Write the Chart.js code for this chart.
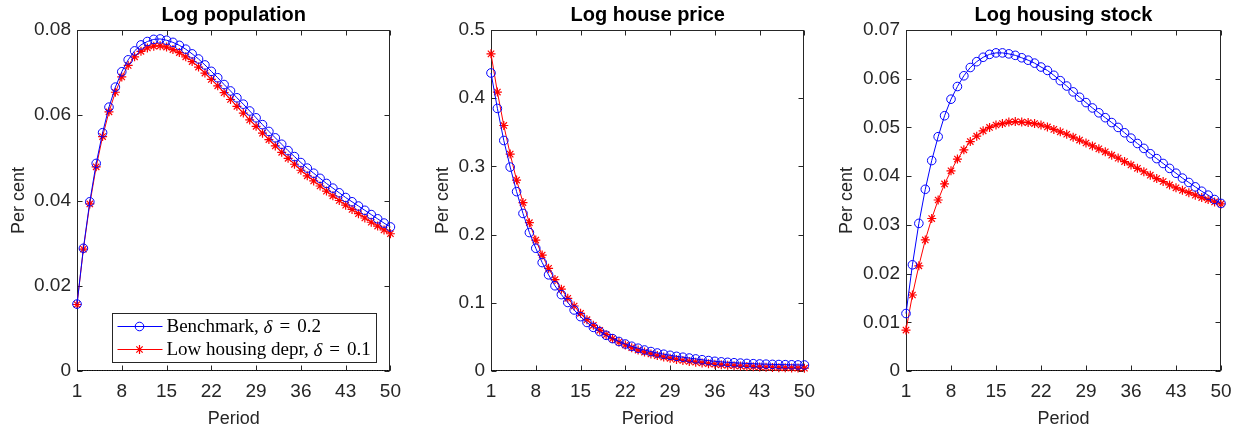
<!DOCTYPE html>
<html>
<head>
<meta charset="utf-8">
<script src="https://cdn.jsdelivr.net/npm/chart.js@4.4.0/dist/chart.umd.min.js"></script>
<style>
  body { margin: 0; background: #fff; width: 1241px; height: 431px; overflow: hidden; position: relative; }
  canvas { position: absolute; top: 0; }
</style>
</head>
<body>
<canvas id="c1" width="410" height="431" style="left:0px"></canvas>
<canvas id="c2" width="410" height="431" style="left:414px"></canvas>
<canvas id="c3" width="412" height="431" style="left:829px"></canvas>
<script>
// periods on the x axis
const periods = [1, 2, 3, 4, 5, 6, 7, 8, 9, 10, 11, 12, 13, 14, 15, 16, 17, 18, 19, 20,
  21, 22, 23, 24, 25, 26, 27, 28, 29, 30, 31, 32, 33, 34, 35, 36, 37, 38, 39, 40,
  41, 42, 43, 44, 45, 46, 47, 48, 49, 50];
const periodTicks = [1, 8, 15, 22, 29, 36, 43, 50];

const seriesNames = ['Benchmark, ', 'Low housing depr, '];
const deltaValues = ['0.2', '0.1'];

// Log population
const popBench = [0.0157, 0.0288, 0.0397, 0.0487, 0.0559, 0.0619, 0.0666, 0.0702, 0.0730, 0.0751,
  0.0765, 0.0773, 0.0778, 0.0779, 0.0776, 0.0771, 0.0764, 0.0755, 0.0744, 0.0732,
  0.0718, 0.0703, 0.0688, 0.0672, 0.0657, 0.0641, 0.0626, 0.0610, 0.0594, 0.0578,
  0.0562, 0.0547, 0.0532, 0.0517, 0.0503, 0.0489, 0.0476, 0.0464, 0.0452, 0.0440,
  0.0429, 0.0418, 0.0407, 0.0397, 0.0387, 0.0377, 0.0367, 0.0357, 0.0347, 0.0338];
const popLow = [0.0156, 0.0286, 0.0392, 0.0479, 0.0550, 0.0608, 0.0654, 0.0690, 0.0717, 0.0737,
  0.0750, 0.0758, 0.0762, 0.0763, 0.0760, 0.0754, 0.0747, 0.0737, 0.0726, 0.0713,
  0.0699, 0.0684, 0.0669, 0.0653, 0.0637, 0.0621, 0.0605, 0.0589, 0.0574, 0.0558,
  0.0543, 0.0528, 0.0513, 0.0499, 0.0485, 0.0471, 0.0458, 0.0446, 0.0434, 0.0422,
  0.0411, 0.0400, 0.0389, 0.0379, 0.0369, 0.0359, 0.0349, 0.0340, 0.0331, 0.0322];
const popTicks = [0, 0.02, 0.04, 0.06, 0.08];

// Log house price
const priceBench = [0.437, 0.385, 0.338, 0.299, 0.263, 0.231, 0.203, 0.180, 0.159, 0.141,
  0.125, 0.112, 0.1005, 0.0895, 0.0797, 0.0712, 0.0640, 0.0578, 0.0523, 0.0475,
  0.0433, 0.0396, 0.0363, 0.0334, 0.0308, 0.0285, 0.0264, 0.0246, 0.0230, 0.0215,
  0.0202, 0.0190, 0.0177, 0.0165, 0.0153, 0.0142, 0.0134, 0.0127, 0.0121, 0.0116,
  0.0111, 0.0107, 0.0103, 0.0100, 0.0097, 0.0095, 0.0093, 0.0091, 0.0089, 0.0088];
const priceLow = [0.465, 0.409, 0.360, 0.318, 0.280, 0.247, 0.2175, 0.192, 0.170, 0.1505,
  0.134, 0.120, 0.1065, 0.0953, 0.0846, 0.0753, 0.0670, 0.0597, 0.0532, 0.0475,
  0.0425, 0.0381, 0.0342, 0.0307, 0.0277, 0.0250, 0.0226, 0.0205, 0.0186, 0.0169,
  0.0154, 0.0141, 0.0129, 0.0118, 0.0108, 0.0099, 0.0091, 0.0084, 0.0078, 0.0072,
  0.0067, 0.0063, 0.0059, 0.0055, 0.0052, 0.0049, 0.0047, 0.0045, 0.0043, 0.0041];
const priceTicks = [0, 0.1, 0.2, 0.3, 0.4, 0.5];

// Log housing stock
const stockBench = [0.0118, 0.0218, 0.0303, 0.0373, 0.0432, 0.0481, 0.0524, 0.0558, 0.0584, 0.0606,
  0.0623, 0.0635, 0.0644, 0.0650, 0.0653, 0.0653, 0.0651, 0.0648, 0.0643, 0.0638,
  0.0632, 0.0624, 0.0617, 0.0607, 0.0596, 0.0585, 0.0573, 0.0562, 0.0551, 0.0540,
  0.0530, 0.0520, 0.0510, 0.0500, 0.0489, 0.0478, 0.0467, 0.0457, 0.0446, 0.0436,
  0.0426, 0.0416, 0.0406, 0.0396, 0.0387, 0.0378, 0.0369, 0.0361, 0.0352, 0.0344];
const stockLow = [0.0084, 0.0156, 0.0216, 0.0269, 0.0313, 0.0351, 0.0384, 0.0411, 0.0435, 0.0454,
  0.0471, 0.0482, 0.0493, 0.0500, 0.0505, 0.0508, 0.0511, 0.0512, 0.0511, 0.0510,
  0.0508, 0.0505, 0.0501, 0.0496, 0.0491, 0.0486, 0.0480, 0.0474, 0.0468, 0.0462,
  0.0456, 0.0450, 0.0443, 0.0437, 0.0430, 0.0423, 0.0416, 0.0409, 0.0402, 0.0395,
  0.0389, 0.0382, 0.0376, 0.0371, 0.0366, 0.0361, 0.0356, 0.0352, 0.0347, 0.0343];
const stockTicks = [0, 0.01, 0.02, 0.03, 0.04, 0.05, 0.06, 0.07];

const SANS = '"Liberation Sans", Arial, sans-serif';
const SERIF = '"Liberation Serif", "Times New Roman", serif';
const AXIS_COLOR = '#262626';

// box, inward tick marks and dotted zero line (MATLAB look)
const framePlugin = {
  id: 'frame',
  beforeDatasetsDraw(chart) {
    const { ctx, chartArea: a, scales: { x, y } } = chart;
    const L = Math.round(a.left) + 0.5, R = Math.round(a.right) - 0.5;
    const T = Math.round(a.top) + 0.5, B = Math.round(a.bottom) - 0.5;
    const tl = 5;
    ctx.save();
    ctx.strokeStyle = AXIS_COLOR;
    ctx.lineWidth = 1;
    ctx.strokeRect(L, T, R - L, B - T);
    ctx.beginPath();
    x.ticks.forEach(t => {
      const px = Math.round(x.getPixelForValue(t.value)) + 0.5;
      ctx.moveTo(px, B); ctx.lineTo(px, B - tl);
      ctx.moveTo(px, T); ctx.lineTo(px, T + tl);
    });
    y.ticks.forEach(t => {
      const py = Math.round(y.getPixelForValue(t.value)) + 0.5;
      ctx.moveTo(L, py); ctx.lineTo(L + tl, py);
      ctx.moveTo(R, py); ctx.lineTo(R - tl, py);
    });
    ctx.stroke();
    // zero line
    const zy = Math.round(y.getPixelForValue(0)) - 0.5;
    ctx.strokeStyle = '#000';
    ctx.setLineDash([1, 1.5]);
    ctx.beginPath();
    ctx.moveTo(x.getPixelForValue(periods[0]), zy);
    ctx.lineTo(x.getPixelForValue(periods[periods.length - 1]), zy);
    ctx.stroke();
    ctx.restore();
  }
};

// legend box with line + marker samples and LaTeX-like labels
const legendPlugin = {
  id: 'matlabLegend',
  afterDatasetsDraw(chart, args, opts) {
    if (!opts.show) return;
    const { ctx, chartArea: a } = chart;
    const fontUp = '19px ' + SERIF;
    const fontIt = 'italic 19px ' + SERIF;
    const gap = 7;
    ctx.save();
    const rows = chart.data.datasets.map((ds, i) => {
      const parts = [
        { t: seriesNames[i], f: fontUp, g: 0 },
        { t: 'δ', f: fontIt, g: gap },
        { t: '=', f: fontUp, g: gap },
        { t: deltaValues[i], f: fontUp, g: 0 }
      ];
      let w = 0;
      parts.forEach(p => { ctx.font = p.f; p.w = ctx.measureText(p.t).width; w += p.w + p.g; });
      return { ds, parts, w };
    });
    const textW = Math.max(...rows.map(r => r.w));
    const right = Math.round(a.right - 14) + 0.5;
    const bottom = Math.round(a.bottom - 9) + 0.5;
    const top = bottom - 49;
    const left = Math.round(right - (54 + textW + 6)) + 0.5;
    ctx.fillStyle = '#fff';
    ctx.fillRect(left, top, right - left, bottom - top);
    ctx.strokeStyle = AXIS_COLOR;
    ctx.lineWidth = 1;
    ctx.strokeRect(left, top, right - left, bottom - top);
    rows.forEach((r, i) => {
      const cy = Math.round(top + 12 + i * 23) + 0.5;
      ctx.strokeStyle = r.ds.borderColor;
      ctx.lineWidth = 1;
      ctx.beginPath();
      ctx.moveTo(left + 5, cy); ctx.lineTo(left + 50, cy);
      ctx.stroke();
      ctx.fillStyle = 'rgba(0,0,0,0)';
      ctx.lineWidth = r.ds.pointBorderWidth;
      Chart.helpers.drawPoint(ctx, {
        pointStyle: r.ds.pointStyle, radius: r.ds.pointRadius,
        rotation: 0, borderWidth: r.ds.pointBorderWidth
      }, left + 27, cy);
      let tx = left + 54;
      ctx.fillStyle = '#000';
      ctx.textBaseline = 'middle';
      ctx.textAlign = 'left';
      r.parts.forEach(p => {
        ctx.font = p.f;
        ctx.fillText(p.t, tx, cy + 1);
        tx += p.w + p.g;
      });
    });
    ctx.restore();
  }
};

function makeChart(id, title, bench, low, yTicks, yTitlePad, padRight, showLegend) {
  const ctx = document.getElementById(id).getContext('2d');
  return new Chart(ctx, {
    type: 'line',
    data: {
      labels: periods,
      datasets: [{
        data: bench,
        borderColor: '#0000ff',
        borderWidth: 1,
        backgroundColor: 'rgba(0,0,0,0)',
        pointStyle: 'circle',
        pointRadius: 4.3,
        pointBorderWidth: 1,
        pointBorderColor: '#0000ff',
        pointBackgroundColor: 'rgba(0,0,0,0)',
        tension: 0,
        clip: false
      }, {
        data: low,
        borderColor: '#ff0000',
        borderWidth: 1,
        backgroundColor: 'rgba(0,0,0,0)',
        pointStyle: 'star',
        pointRadius: 4.5,
        pointBorderWidth: 1.2,
        pointBorderColor: '#ff0000',
        tension: 0,
        clip: false
      }]
    },
    options: {
      responsive: false,
      animation: false,
      events: [],
      layout: { padding: { left: 0, right: padRight, top: 0, bottom: 0 } },
      plugins: {
        legend: { display: false },
        tooltip: { enabled: false },
        title: {
          display: true,
          text: title,
          fullSize: false,
          color: '#000',
          font: { family: SANS, size: 20, weight: 'bold', lineHeight: 1.2 },
          padding: { top: 3.5, bottom: 2.5 }
        },
        matlabLegend: { show: showLegend }
      },
      scales: {
        x: {
          type: 'linear',
          min: periods[0],
          max: periods[periods.length - 1],
          grid: { display: false, drawTicks: false },
          border: { display: false },
          afterBuildTicks: s => { s.ticks = periodTicks.map(v => ({ value: v })); },
          afterFit: s => { s.height = 60; },
          ticks: {
            color: AXIS_COLOR,
            font: { family: SANS, size: 19 },
            padding: 9,
            maxRotation: 0,
            callback: v => String(v)
          },
          title: {
            display: true,
            text: 'Period',
            color: AXIS_COLOR,
            font: { family: SANS, size: 18 },
            padding: { top: 1, bottom: 1 }
          }
        },
        y: {
          min: yTicks[0],
          max: yTicks[yTicks.length - 1],
          grid: { display: false, drawTicks: false },
          border: { display: false },
          afterBuildTicks: s => { s.ticks = yTicks.map(v => ({ value: v })); },
          afterFit: s => { s.width = 77; },
          ticks: {
            color: AXIS_COLOR,
            font: { family: SANS, size: 19 },
            padding: 6,
            callback: v => String(v)
          },
          title: {
            display: true,
            text: 'Per cent',
            color: AXIS_COLOR,
            font: { family: SANS, size: 18 },
            padding: { top: yTitlePad, bottom: 0 }
          }
        }
      }
    },
    plugins: [framePlugin, legendPlugin]
  });
}

makeChart('c1', 'Log population', popBench, popLow, popTicks, 8, 18, true);
makeChart('c2', 'Log house price', priceBench, priceLow, priceTicks, 18.5, 17, false);
makeChart('c3', 'Log housing stock', stockBench, stockLow, stockTicks, 7.5, 20, false);
</script>
</body>
</html>
